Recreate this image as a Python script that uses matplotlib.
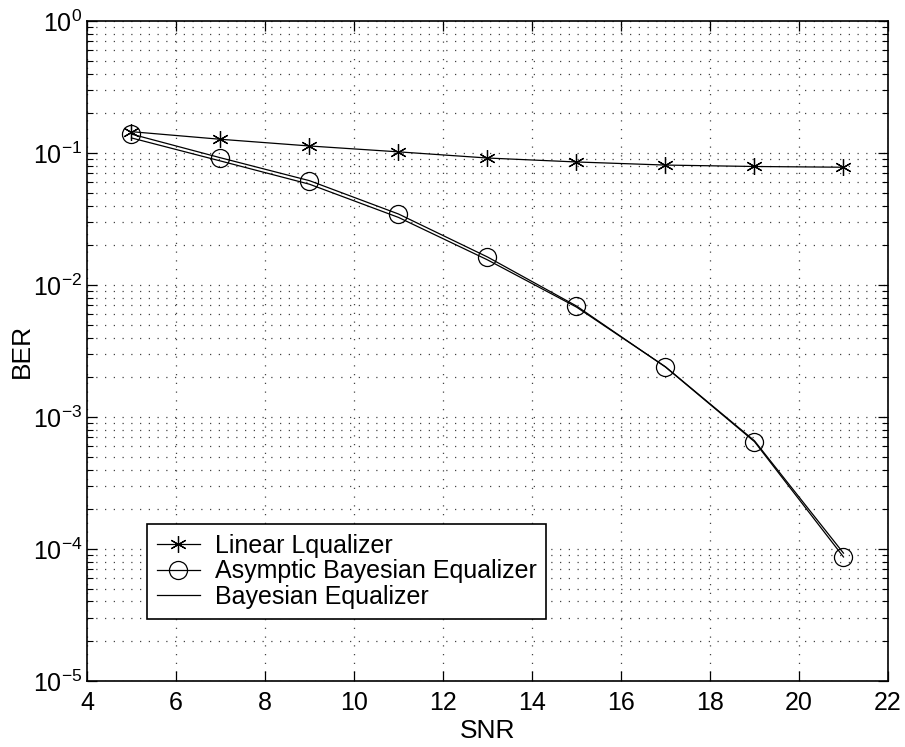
import matplotlib
matplotlib.use("Agg")
import matplotlib.pyplot as plt
from matplotlib.ticker import LogLocator, NullFormatter

plt.rcParams["font.family"] = ["Liberation Sans", "DejaVu Sans"]
plt.rcParams["mathtext.fontset"] = "custom"
plt.rcParams["mathtext.rm"] = "Liberation Sans"
plt.rcParams["mathtext.it"] = "Liberation Sans"

snr = [5, 7, 9, 11, 13, 15, 17, 19, 21]
ber_linear = [0.145, 0.127, 0.113, 0.102, 0.0916, 0.0855, 0.081, 0.079, 0.078]
ber_asym = [0.139, 0.092, 0.0617, 0.0345, 0.0163, 0.00693, 0.00239, 0.00065, 0.000087]
ber_bayes = [0.130, 0.087, 0.058, 0.0325, 0.0155, 0.0068, 0.0024, 0.00066, 0.000093]

fig = plt.figure(figsize=(9.05, 7.47), dpi=100)
ax = fig.add_axes([0.0961, 0.0884, 0.8851, 0.8835])

ax.semilogy(snr, ber_linear, color="black", lw=0.9, marker=(6, 2, 0),
            markersize=12, markeredgewidth=0.9, label="Linear Lqualizer")
ax.semilogy(snr, ber_asym, color="black", lw=0.9, marker="o", markersize=13,
            markerfacecolor="none", markeredgewidth=0.9,
            label="Asymptic Bayesian Equalizer")
ax.semilogy(snr, ber_bayes, color="black", lw=0.9, label="Bayesian Equalizer")

ax.set_xlim(4, 22)
ax.set_ylim(1e-5, 1)
ax.set_xticks(range(4, 23, 2))
ax.yaxis.set_major_locator(LogLocator(base=10, numticks=10))
ax.yaxis.set_minor_locator(LogLocator(base=10, subs=range(2, 10), numticks=20))
ax.yaxis.set_minor_formatter(NullFormatter())

ax.grid(True, which="major", axis="both", color="#444444", ls=(0, (1, 6)), lw=0.9)
ax.grid(True, which="minor", axis="y", color="#444444", ls=(0, (1, 6)), lw=0.9)

ax.tick_params(which="both", direction="in", top=True, right=True, labelsize=18)
ax.tick_params(axis="x", pad=7)
ax.tick_params(which="major", length=7, width=0.9)
ax.tick_params(which="minor", length=4, width=0.8)
for s in ax.spines.values():
    s.set_linewidth(1.2)

ax.set_xlabel("SNR", fontsize=19, labelpad=3)
ax.set_ylabel("BER", fontsize=19, labelpad=-1)

leg = ax.legend(loc="lower left", bbox_to_anchor=(0.075, 0.094), fontsize=18,
                frameon=True, fancybox=False, edgecolor="black", framealpha=1,
                handlelength=1.7, handletextpad=0.6, borderpad=0.4,
                labelspacing=0.06, borderaxespad=0)
leg.get_frame().set_linewidth(1.2)

fig.savefig("out.png", dpi=100)
